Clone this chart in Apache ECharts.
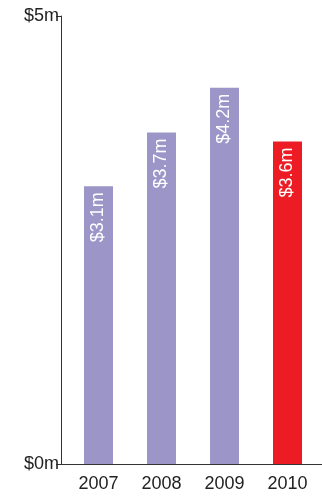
<!DOCTYPE html>
<html><head><meta charset="utf-8">
<script src="https://cdn.jsdelivr.net/npm/echarts@6/dist/echarts.min.js"></script>
<style>html,body{margin:0;padding:0;background:#fff}#c{width:322px;height:499px}</style>
</head><body><div id="c"></div>
<script>
const categories = ['2007', '2008', '2009', '2010'];
const values = [3.1, 3.7, 4.2, 3.6];
const valueLabels = ['$3.1m', '$3.7m', '$4.2m', '$3.6m'];
const yTickLabels = {0: '$0m', 5: '$5m'};
const barColors = ['#9b95c8', '#9b95c8', '#9b95c8', '#ed1c24'];

const chart = echarts.init(document.getElementById('c'), null, {renderer: 'canvas'});
const FONT = 'Liberation Sans, Arial, sans-serif';
chart.setOption({
  animation: false,
  grid: [
    {left: 67, right: 3, top: 16, bottom: 35},
    {left: 61, right: 0, top: 16, bottom: 35}
  ],
  xAxis: [
    {
      type: 'category', data: categories, gridIndex: 0,
      axisLine: {show: false}, axisTick: {show: false},
      axisLabel: {color: '#222', fontSize: 18, fontFamily: FONT, margin: 11}
    },
    {
      type: 'value', gridIndex: 1, min: 0, max: 1,
      axisLine: {show: true, lineStyle: {color: '#333', width: 1}},
      axisTick: {show: false}, axisLabel: {show: false}, splitLine: {show: false}
    }
  ],
  yAxis: [
    {
      type: 'value', gridIndex: 0, min: 0, max: 5, interval: 5, offset: 6,
      axisLine: {show: true, lineStyle: {color: '#333', width: 1}},
      axisTick: {show: true, length: 5, lineStyle: {color: '#333'}},
      axisLabel: {color: '#222', fontSize: 18, fontFamily: FONT, margin: 2,
        formatter: v => yTickLabels[v] || ''},
      splitLine: {show: false}
    },
    {
      type: 'value', gridIndex: 1, min: 0, max: 1, show: false
    }
  ],
  series: [{
    type: 'bar', xAxisIndex: 0, yAxisIndex: 0,
    barWidth: 29,
    data: values.map((v, i) => ({value: v, itemStyle: {color: barColors[i]}})),
    label: {
      show: true, position: 'insideTop', rotate: 90, align: 'right', verticalAlign: 'middle',
      distance: 6, color: '#fff', fontSize: 18, fontFamily: FONT,
      formatter: p => valueLabels[p.dataIndex]
    }
  }]
});
</script></body></html>
